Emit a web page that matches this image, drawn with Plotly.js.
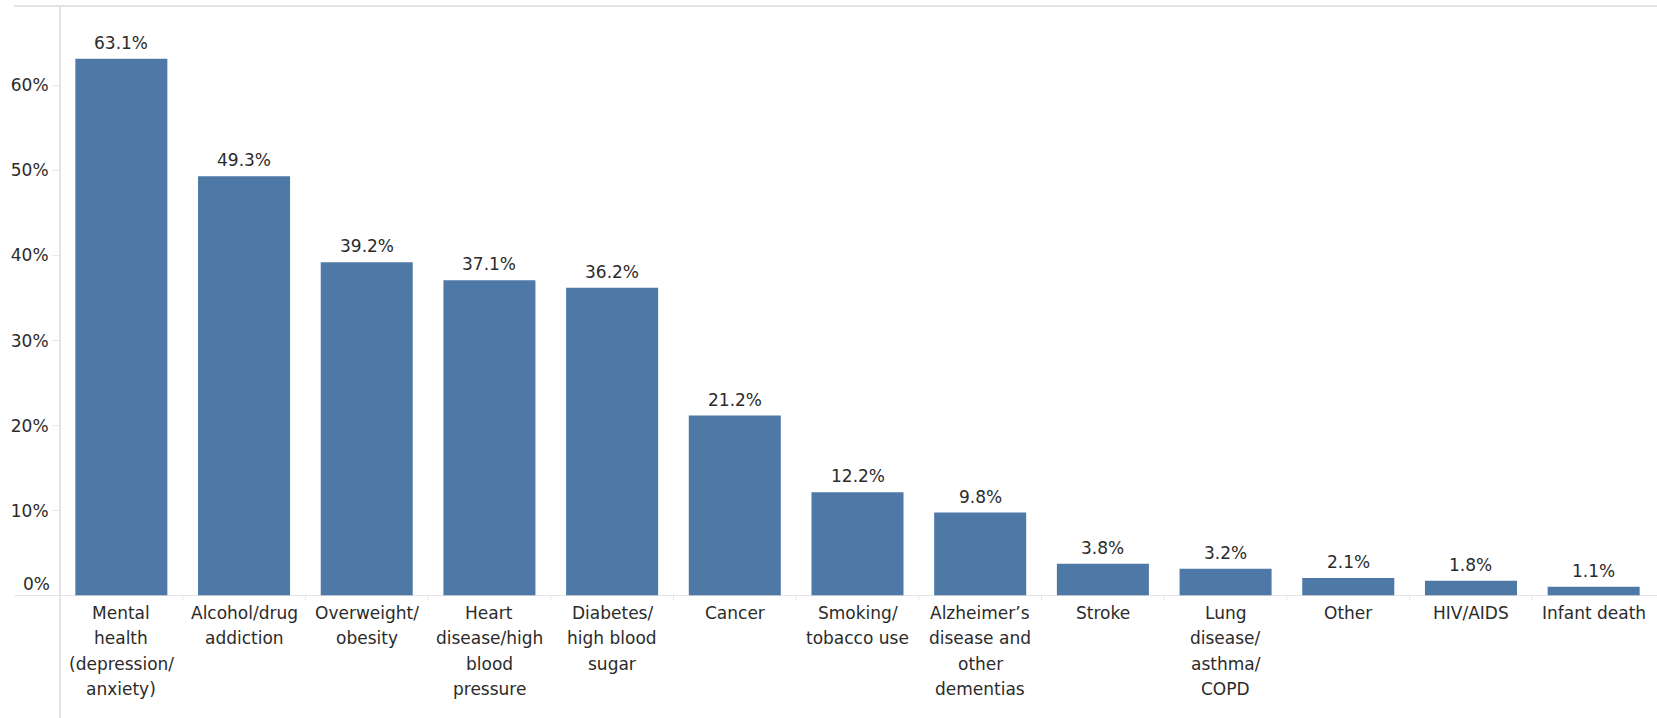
<!DOCTYPE html>
<html>
<head>
<meta charset="utf-8">
<script src="https://cdn.plot.ly/plotly-3.0.1.min.js"></script>
<style>
  html, body { margin: 0; padding: 0; background: #ffffff; }
  #chart { width: 1657px; height: 718px; }
</style>
</head>
<body>
<div id="chart"></div>
<script>
// Health concerns, share of respondents (%)
const categories = [
  "Mental<br>health<br>(depression/<br>anxiety)",
  "Alcohol/drug<br>addiction",
  "Overweight/<br>obesity",
  "Heart<br>disease/high<br>blood<br>pressure",
  "Diabetes/<br>high blood<br>sugar",
  "Cancer",
  "Smoking/<br>tobacco use",
  "Alzheimer’s<br>disease and<br>other<br>dementias",
  "Stroke",
  "Lung<br>disease/<br>asthma/<br>COPD",
  "Other",
  "HIV/AIDS",
  "Infant death"
];
const values = [63.1, 49.3, 39.2, 37.1, 36.2, 21.2, 12.2, 9.8, 3.8, 3.2, 2.1, 1.8, 1.1];
const yTickValues = [10, 20, 30, 40, 50, 60];
const yTickLabels = ["10%", "20%", "30%", "40%", "50%", "60%"];
const zeroLabel = "0%";

const W = 1657, H = 718;
const margin = { l: 60, r: 2, t: 6, b: 122 };
const plotW = W - margin.l - margin.r;
const plotH = H - margin.t - margin.b;

const FONT = "DejaVu Sans, Verdana, sans-serif";
const TEXT = "#2b2b2b";
const RULE = "#dcdcdc";
const LINE_STEP = 25.4;

// keys: positions 0..n-1 on the category axis
const keys = categories.map((_, i) => i);

const annotations = [];

// category labels, one annotation per text line
categories.forEach((label, i) => {
  label.split("<br>").forEach((line, j) => {
    annotations.push({
      x: i, xref: "x",
      y: 0, yref: "paper",
      yanchor: "middle", xanchor: "center",
      yshift: -(17 + j * LINE_STEP),
      text: line,
      showarrow: false,
      font: { family: FONT, size: 17, color: TEXT }
    });
  });
});

// value labels above each bar
values.forEach((v, i) => {
  annotations.push({
    x: i, xref: "x",
    y: v, yref: "y",
    yanchor: "bottom", xanchor: "center",
    yshift: 4,
    text: v.toFixed(1) + "%",
    showarrow: false,
    font: { family: FONT, size: 17, color: TEXT }
  });
});

// 0% label sits just above the baseline
annotations.push({
  x: 0, xref: "paper", xanchor: "right", xshift: -8,
  y: 0, yref: "y", yanchor: "bottom", yshift: 0,
  text: zeroLabel, showarrow: false,
  font: { family: FONT, size: 17, color: TEXT }
});

const trace = {
  type: "bar",
  x: keys,
  y: values,
  marker: { color: "#4e79a7" },
  cliponaxis: false,
  hoverinfo: "skip"
};

const leftExt = -46 / plotW;        // rules extend left of the axis
const bottomExt = -margin.b / plotH; // axis rule runs to the bottom edge

const layout = {
  width: W, height: H,
  margin: margin,
  paper_bgcolor: "#ffffff",
  plot_bgcolor: "#ffffff",
  showlegend: false,
  bargap: 0.25,
  font: { family: FONT, size: 17, color: TEXT },
  xaxis: {
    range: [-0.5, categories.length - 0.5],
    tickvals: keys,
    showticklabels: false,
    showgrid: false,
    zeroline: false,
    showline: false,
    ticks: "",
    fixedrange: true
  },
  yaxis: {
    range: [0, 69.3],
    tickvals: yTickValues,
    ticktext: yTickLabels,
    ticks: "outside",
    ticklen: 7,
    tickcolor: "#e8e8e8",
    tickfont: { family: FONT, size: 17, color: TEXT },
    showgrid: false,
    zeroline: false,
    showline: false,
    fixedrange: true
  },
  shapes: [
    // top rule
    { type: "line", xref: "paper", yref: "paper", x0: leftExt, x1: 1 + margin.r / plotW, y0: 1, y1: 1,
      line: { color: "#e3e3e3", width: 2 } },
    // baseline
    { type: "line", xref: "paper", yref: "y", x0: leftExt, x1: 1 + margin.r / plotW, y0: 0, y1: 0,
      line: { color: RULE, width: 1.5 } },
    // vertical axis rule
    { type: "line", xref: "paper", yref: "paper", x0: 0, x1: 0, y0: bottomExt, y1: 1,
      line: { color: RULE, width: 1.5 } }
  ].concat(
    // small separators between categories below the baseline
    keys.slice(1).map(i => ({
      type: "line", xref: "x", yref: "paper",
      x0: i - 0.5, x1: i - 0.5, y0: 0, y1: -4 / plotH,
      line: { color: "#e6e6e6", width: 1 }
    }))
  ),
  annotations: annotations
};

Plotly.newPlot("chart", [trace], layout, { displayModeBar: false, staticPlot: true });
</script>
</body>
</html>
